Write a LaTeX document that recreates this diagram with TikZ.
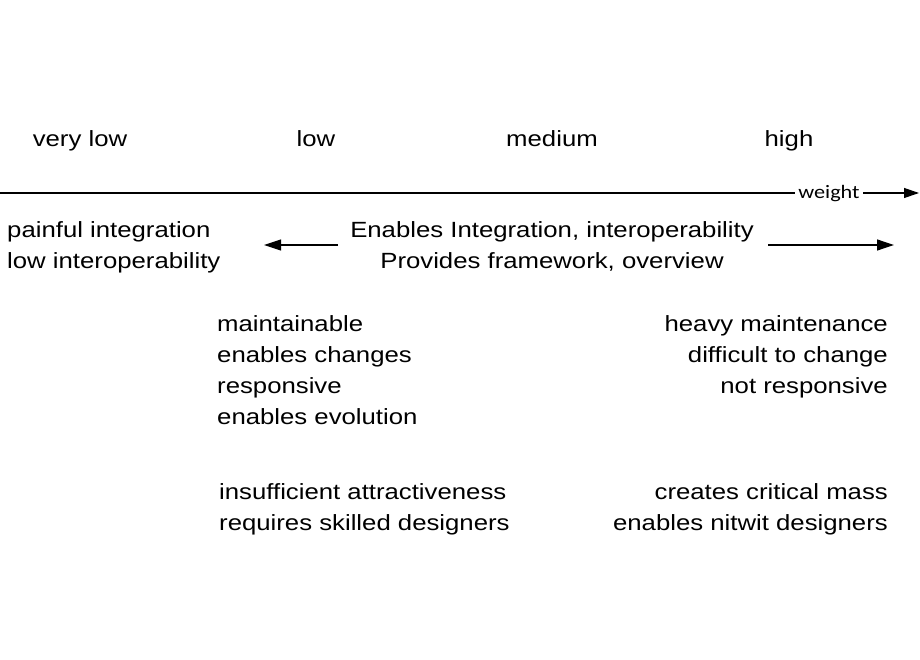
\documentclass[tikz,border=0pt]{standalone}
\usepackage{fontspec}
\setmainfont{Liberation Sans}[FakeStretch=1.17]
\newfontfamily\calfont{Carlito}[FakeStretch=1.17]
\usetikzlibrary{arrows.meta}
\begin{document}
\begin{tikzpicture}[x=1pt,y=-1pt,
  lbl/.style={inner sep=0pt,font=\fontsize{22}{31}\selectfont},
  lw/.style={lbl,anchor=base west},
  le/.style={lbl,anchor=base east},
  lc/.style={lbl,anchor=base},
  axis/.style={line width=1.2pt,-{Triangle[length=15pt,width=10pt]}},
  sidearrow/.style={line width=1.2pt,-{Triangle[length=17pt,width=11pt]}}]
\useasboundingbox[fill=white] (0,0) rectangle (920,660);
% level labels
\node[lc] (vlow) at (80,147) {very low};
\node[lc] (low) at (316,147) {low};
\node[lc] (med) at (552,147) {medium};
\node[lc] (high) at (789,147) {high};
% axis
\coordinate (a0) at (0,193);
\coordinate (a1) at (919,193);
\draw[axis] (a0) -- (a1);
\node[fill=white,inner xsep=3pt,inner ysep=0pt,anchor=base,font=\calfont\fontsize{19}{20}\selectfont] (w) at (829,198.5) {weight};
% integration row
\node[lw] (p1) at (7,237) {painful integration};
\node[lw] (p2) at (7,268) {low interoperability};
\node[lc] (e1) at (552,237) {Enables Integration, interoperability};
\node[lc] (e2) at (552,268) {Provides framework, overview};
\coordinate (la) at (338,245);
\coordinate (lb) at (264,245);
\coordinate (ra) at (768,245);
\coordinate (rb) at (894,245);
\draw[sidearrow] (la) -- (lb);
\draw[sidearrow] (ra) -- (rb);
% maintenance
\node[lw] (m1) at (217,331) {maintainable};
\node[lw] (m2) at (217,362) {enables changes};
\node[lw] (m3) at (217,393) {responsive};
\node[lw] (m4) at (217,424) {enables evolution};
\node[le] (h1) at (888,331) {heavy maintenance};
\node[le] (h2) at (888,362) {difficult to change};
\node[le] (h3) at (888,393) {not responsive};
% attractiveness
\node[lw] (i1) at (219,499) {insufficient attractiveness};
\node[lw] (i2) at (219,530) {requires skilled designers};
\node[le] (c1) at (888,499) {creates critical mass};
\node[le] (c2) at (888,530) {enables nitwit designers};
\end{tikzpicture}
\end{document}
